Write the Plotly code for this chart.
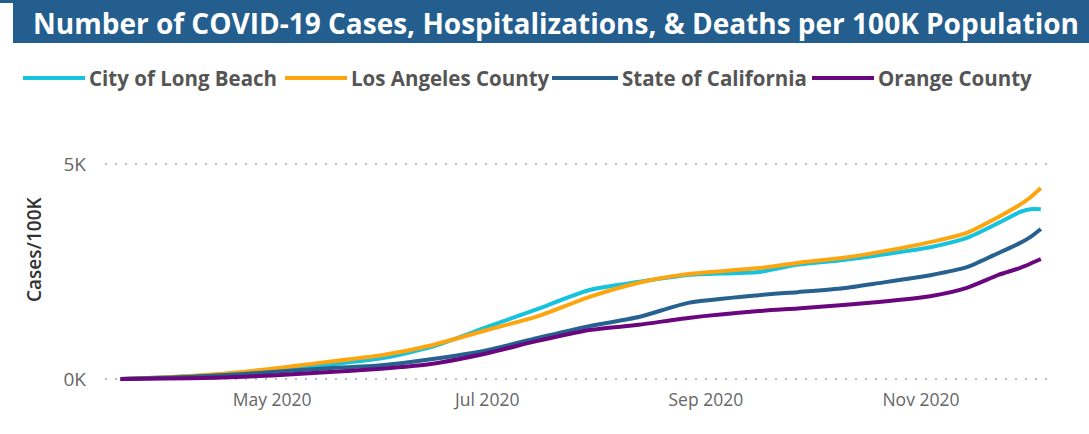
import plotly.graph_objects as go

# ---------------- data (values in cases per 100K) ----------------
dates = ["2020-03-19", "2020-04-01", "2020-04-15", "2020-05-01", "2020-05-15",
         "2020-06-01", "2020-06-15", "2020-07-01", "2020-07-15", "2020-07-30",
         "2020-08-13", "2020-08-27", "2020-09-16", "2020-09-27", "2020-10-10",
         "2020-10-20", "2020-11-04", "2020-11-14", "2020-11-23", "2020-11-29",
         "2020-12-02", "2020-12-05"]

long_beach = [0, 40, 100, 210, 320, 480, 740, 1210, 1620, 2070, 2260, 2420, 2490,
              2660, 2770, 2880, 3070, 3280, 3630, 3880, 3950, 3950]
la_county = [0, 40, 110, 240, 380, 550, 780, 1140, 1450, 1910, 2240, 2440, 2580,
             2700, 2820, 2950, 3190, 3400, 3770, 4050, 4220, 4440]
california = [0, 30, 80, 160, 240, 320, 460, 670, 950, 1230, 1440, 1770, 1950,
              2020, 2110, 2230, 2420, 2600, 2930, 3160, 3300, 3490]
orange_county = [0, 10, 30, 80, 150, 240, 350, 600, 880, 1140, 1260, 1420, 1580,
                 1640, 1720, 1790, 1930, 2120, 2420, 2580, 2680, 2790]

series_names = ["City of Long Beach", "Los Angeles County", "State of California", "Orange County"]
series_values = [long_beach, la_county, california, orange_county]
series_colors = ["#15C3DE", "#FDA50F", "#27618F", "#6B077E"]

x_tick_vals = ["2020-05-01", "2020-07-01", "2020-09-01", "2020-11-01"]
x_tick_text = ["May 2020", "Jul 2020", "Sep 2020", "Nov 2020"]
y_tick_vals = [0, 5000]
y_tick_text = ["0K", "5K"]

title_text = "Number of COVID-19 Cases, Hospitalizations, & Deaths per 100K Population"
y_title = "Cases/100K"

# ---------------- layout geometry ----------------
W, H = 1089, 434
ML, MR, MT, MB = 105, 37, 150, 49
PW, PH = W - ML - MR, H - MT - MB


def px(x):
    return (x - ML) / PW


def py(y):
    return (H - MB - y) / PH


FONT = "Open Sans"

fig = go.Figure()
for name, vals, col in zip(series_names, series_values, series_colors):
    fig.add_trace(go.Scatter(x=dates, y=vals, name=name, mode="lines",
                             line=dict(color=col, width=4, shape="spline", smoothing=0.6),
                             showlegend=False))

shapes = [
    dict(type="rect", xref="paper", yref="paper", x0=px(13), x1=px(W), y0=py(43), y1=py(0),
         fillcolor="#235E8F", line=dict(width=0), layer="below"),
    dict(type="rect", xref="paper", yref="paper", x0=px(0), x1=px(13), y0=py(3), y1=py(0),
         fillcolor="#235E8F", line=dict(width=0), layer="below"),
]
annotations = [
    dict(text="<b>" + title_text + "</b>", xref="paper", yref="paper", x=px(31), y=py(23),
         xanchor="left", yanchor="middle", showarrow=False,
         font=dict(family=FONT, size=28, color="white")),
    dict(text=y_title, xref="paper", yref="paper", x=px(34), y=py(249),
         xanchor="center", yanchor="middle", textangle=-90, showarrow=False,
         font=dict(family=FONT, size=19, color="#333333", weight=600)),
]

# custom legend
leg_lines = [(23, 85), (285, 347), (552, 618), (812, 874)]
leg_y = 78
for (x0, x1), name, col in zip(leg_lines, series_names, series_colors):
    shapes.append(dict(type="line", xref="paper", yref="paper", x0=px(x0), x1=px(x1),
                       y0=py(leg_y), y1=py(leg_y), line=dict(color=col, width=4)))
    annotations.append(dict(text="<b>" + name + "</b>", xref="paper", yref="paper",
                            x=px(x1 + 2), y=py(leg_y), xanchor="left", yanchor="middle",
                            showarrow=False, font=dict(family=FONT, size=20.5, color="#555555")))

fig.update_layout(
    width=W, height=H,
    margin=dict(l=ML, r=MR, t=MT, b=MB),
    paper_bgcolor="white", plot_bgcolor="white",
    shapes=shapes, annotations=annotations,
    showlegend=False,
    xaxis=dict(type="date", range=["2020-03-14 15:00", "2020-12-08 04:00"],
               tickvals=x_tick_vals, ticktext=x_tick_text, showgrid=False,
               zeroline=False, showline=False, ticks="",
               tickfont=dict(family=FONT, size=17.5, color="#666666"), ticklabelstandoff=2),
    yaxis=dict(range=[-140, 5326], tickvals=y_tick_vals, ticktext=y_tick_text,
               showgrid=True, gridcolor="#BDBDBD", gridwidth=2, griddash="2px,8px",
               zeroline=False, showline=False, ticks="",
               tickfont=dict(family=FONT, size=19, color="#666666"), ticklabelstandoff=18),
)

fig.write_html("out.html", config={"displayModeBar": False},
               post_script="document.body.style.margin='0';")
